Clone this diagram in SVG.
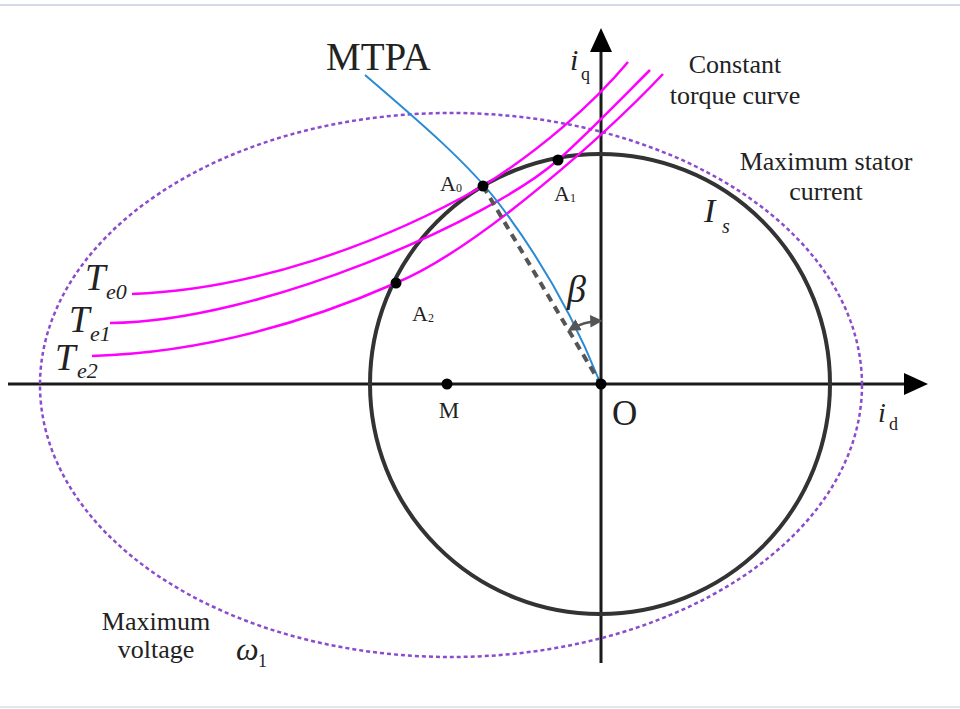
<svg xmlns="http://www.w3.org/2000/svg" width="960" height="709" viewBox="0 0 960 709">
<defs>
<style>
.t{font-family:"Liberation Serif","Times New Roman",serif;fill:#222}
.it{font-style:italic}
.ax{stroke:#1a1a1a;stroke-width:3;fill:none}
.tq{stroke:#ff00ff;stroke-width:2.5;fill:none}
.dot{fill:#000}
</style>
<marker id="ah" viewBox="0 0 10 10" refX="7" refY="5" markerWidth="5" markerHeight="5" orient="auto-start-reverse">
<path d="M0,0 L10,5 L0,10 z" fill="#555"/>
</marker>
</defs>
<rect width="960" height="709" fill="#fff"/>
<line x1="0" y1="5" x2="960" y2="5" stroke="#d3dbe8" stroke-width="2"/>
<line x1="0" y1="707" x2="960" y2="707" stroke="#e2e6ee" stroke-width="2"/>

<g id="connectors">
<!-- axes -->
<line class="ax" x1="8" y1="384" x2="906" y2="384"/>
<path d="M928,384 L904,373 L904,395 z" fill="#000"/>
<line class="ax" x1="601" y1="663" x2="601" y2="50"/>
<path d="M601,28 L590,52 L612,52 z" fill="#000"/>
<!-- max voltage ellipse -->
<ellipse cx="451" cy="385" rx="411" ry="272" fill="none" stroke="#8a4ccc" stroke-width="2.5" stroke-dasharray="4 3"/>
<!-- stator current circle -->
<circle cx="600" cy="384" r="230" fill="none" stroke="#333" stroke-width="4"/>
<!-- torque curves -->
<path class="tq" d="M132,294 C250,290 380,245 483,186 C540,150 592,105 628,62"/>
<path class="tq" d="M110,323 C260,322 490,220 558,160 C585,136 620,100 650,70"/>
<path class="tq" d="M92,356 C220,352 330,312 396,283 C480,248 610,130 663,74"/>
<!-- MTPA -->
<path d="M365,75 C420,122 470,165 500,205 C540,258 575,320 599,380" fill="none" stroke="#2a8ad4" stroke-width="2"/>
<!-- current vector -->
<line x1="483" y1="186" x2="600" y2="383" stroke="#555" stroke-width="4" stroke-dasharray="8 6"/>
<!-- beta arc -->
<path d="M571,329 A62,62 0 0 1 599,321" fill="none" stroke="#555" stroke-width="2.5" marker-start="url(#ah)" marker-end="url(#ah)"/>
</g>

<g id="points">
<circle class="dot" cx="483" cy="186" r="5.5"/>
<circle class="dot" cx="558" cy="160" r="5.5"/>
<circle class="dot" cx="396" cy="283" r="5.5"/>
<circle class="dot" cx="447" cy="384" r="5.5"/>
<circle class="dot" cx="601" cy="384" r="5.5"/>
</g>

<g id="labels">
<text class="t" x="326" y="70" font-size="39">MTPA</text>
<text class="t it" x="570" y="70" font-size="30">i</text>
<text class="t" x="581" y="80" font-size="18">q</text>
<text class="t" x="735" y="73" font-size="26" text-anchor="middle">Constant</text>
<text class="t" x="735" y="104" font-size="26" text-anchor="middle">torque curve</text>
<text class="t" x="826" y="170" font-size="26" text-anchor="middle">Maximum stator</text>
<text class="t" x="826" y="200" font-size="26" text-anchor="middle">current</text>
<text class="t it" x="704" y="222" font-size="34">I</text>
<text class="t it" x="722" y="233" font-size="20">s</text>
<text class="t it" x="85" y="290" font-size="37">T</text>
<text class="t it" x="106" y="299" font-size="22">e0</text>
<text class="t it" x="69" y="332" font-size="37">T</text>
<text class="t it" x="90" y="341" font-size="22">e1</text>
<text class="t it" x="55" y="370" font-size="37">T</text>
<text class="t it" x="77" y="378" font-size="22">e2</text>
<text class="t" x="440" y="191" font-size="22">A</text>
<text class="t" x="456" y="192" font-size="12">0</text>
<text class="t" x="554" y="201" font-size="22">A</text>
<text class="t" x="570" y="202" font-size="12">1</text>
<text class="t" x="412" y="321" font-size="22">A</text>
<text class="t" x="428" y="322" font-size="12">2</text>
<text class="t it" x="567" y="302" font-size="38">β</text>
<text class="t" x="449" y="418" font-size="23" text-anchor="middle">M</text>
<text class="t" x="612" y="425" font-size="35">O</text>
<text class="t it" x="878" y="422" font-size="28">i</text>
<text class="t" x="889" y="430" font-size="18">d</text>
<text class="t" x="156" y="630" font-size="26" text-anchor="middle">Maximum</text>
<text class="t" x="156" y="658" font-size="26" text-anchor="middle">voltage</text>
<text class="t it" x="236" y="660" font-size="32">ω</text>
<text class="t" x="258" y="667" font-size="18">1</text>
</g>
</svg>
